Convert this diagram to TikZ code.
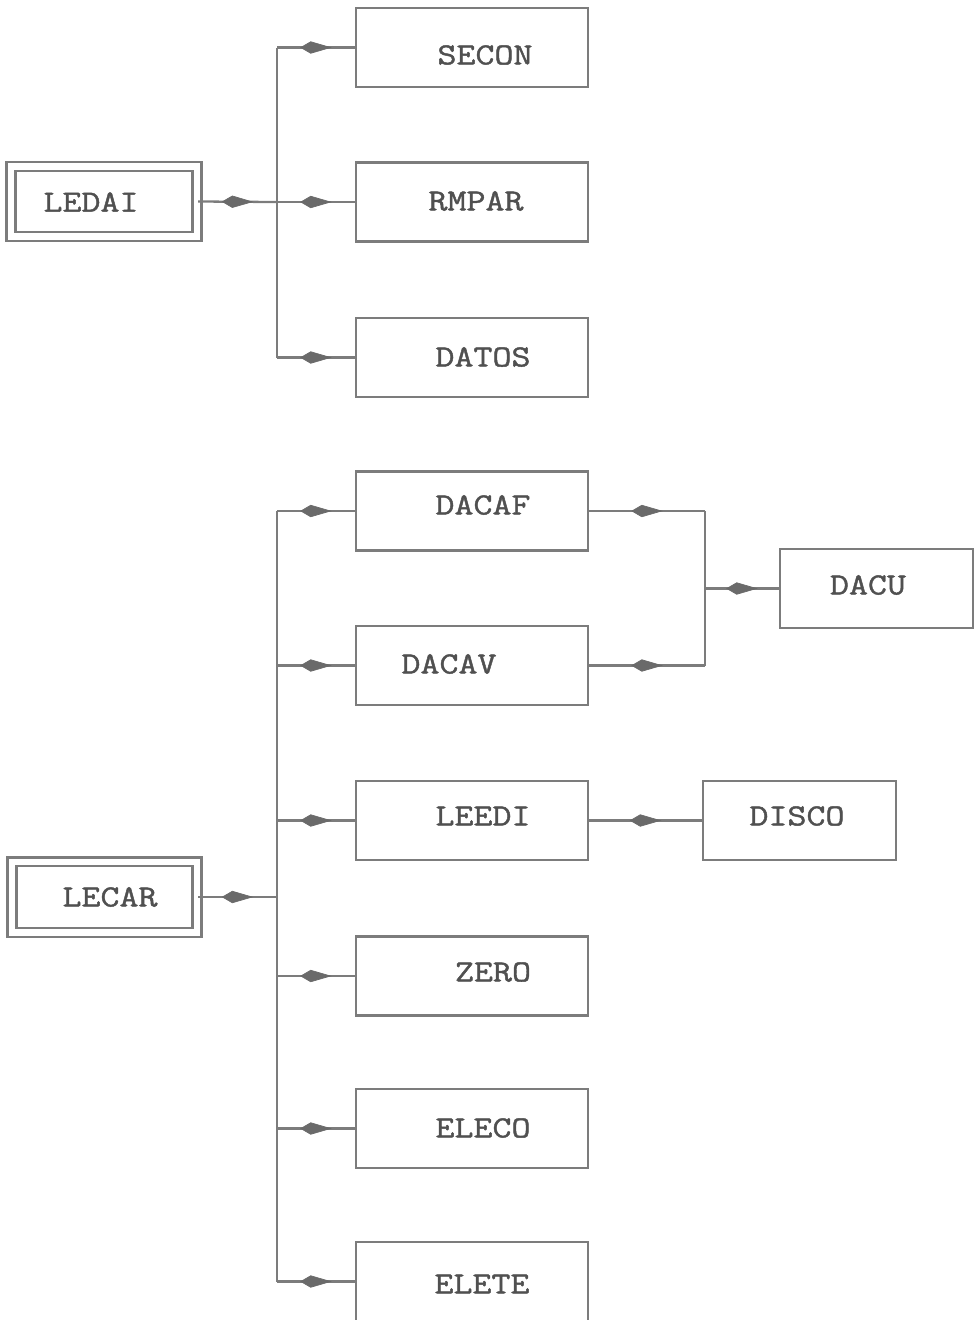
\documentclass[tikz,border=0pt]{standalone}
\usepackage{fontspec}
\setmonofont{Latin Modern Mono}[FakeStretch=1.2,FakeBold=1.4]
\usetikzlibrary{arrows.meta,decorations.markings,calc}
\definecolor{ink}{HTML}{7C7C7C}
\definecolor{txt}{HTML}{505050}
\definecolor{tipc}{HTML}{6A6A6A}
\tikzset{
  box/.style={draw=ink, line width=1.3pt, rectangle, minimum width=4.64cm, minimum height=1.58cm, inner sep=0pt},
  smallbox/.style={draw=ink, line width=1.3pt, rectangle, minimum width=3.86cm, minimum height=1.58cm, inner sep=0pt},
  dbox/.style={draw=ink, line width=1.3pt, double=white, double distance=0.13cm, rectangle, minimum width=3.72cm, minimum height=1.4cm, inner sep=0pt},
  lbl/.style={text=txt, font=\ttfamily\fontsize{17.5}{20}\selectfont, inner sep=0pt},
  wire/.style={draw=ink, line width=1.3pt},
  midarrow/.style={wire, postaction={decorate}, decoration={markings, mark=at position 0.5 with {\arrow[xshift=9pt]{Kite[length=18pt,width=7pt,inset=6pt,color=tipc,fill=tipc,line width=0.4pt]}}}}
}
\begin{document}
\begin{tikzpicture}[x=0.02cm, y=-0.02cm]
\useasboundingbox (0,0) rectangle (974,1320);
% upper group
\node[dbox] (ledai) at (104,201.5) {};
\node[lbl] (ledai-t) at (91,202) {LEDAI};
\node[box] (secon) at (472,47.5) {};
\node[lbl] (secon-t) at (485,55) {SECON};
\node[box] (rmpar) at (472,202) {};
\node[lbl] (rmpar-t) at (476,201) {RMPAR};
\node[box] (datos) at (472,357.5) {};
\node[lbl] (datos-t) at (483,357) {DATOS};
\coordinate (t1) at (277,202);
\draw[wire] (secon.west -| t1) -- (datos.west -| t1);
\draw[midarrow] (ledai.east) -- (t1);
\draw[midarrow] (secon.west -| t1) -- (secon.west);
\draw[midarrow] (t1) -- (rmpar.west);
\draw[midarrow] (datos.west -| t1) -- (datos.west);
% lower group
\node[dbox, minimum width=3.7cm, minimum height=1.41cm] (lecar) at (104.5,897) {};
\node[lbl] (lecar-t) at (110,897) {LECAR};
\node[box] (dacaf) at (472,511) {};
\node[lbl] (dacaf-t) at (483,505) {DACAF};
\node[box] (dacav) at (472,665.5) {};
\node[lbl] (dacav-t) at (449,664) {DACAV};
\node[box] (leedi) at (472,820.5) {};
\node[lbl] (leedi-t) at (483,816) {LEEDI};
\node[box] (zero) at (472,976) {};
\node[lbl] (zero-t) at (493,972) {ZERO};
\node[box] (eleco) at (472,1128.5) {};
\node[lbl] (eleco-t) at (483,1128) {ELECO};
\node[box] (elete) at (472,1281.5) {};
\node[lbl] (elete-t) at (482,1284) {ELETE};
\node[smallbox] (dacu) at (876.5,588.5) {};
\node[lbl] (dacu-t) at (868,585) {DACU};
\node[smallbox] (disco) at (799.5,820.5) {};
\node[lbl] (disco-t) at (797,816) {DISCO};
\coordinate (t2) at (277,897);
\draw[wire] (dacaf.west -| t2) -- (elete.west -| t2);
\draw[midarrow] (lecar.east) -- (t2);
\foreach \b in {dacaf,dacav,leedi,zero,eleco,elete}
  \draw[midarrow] (\b.west -| t2) -- (\b.west);
\coordinate (j) at (705,588.5);
\draw[midarrow] (dacaf.east) -- (dacaf.east -| j);
\draw[wire] (dacaf.east -| j) -- (dacav.east -| j);
\draw[midarrow] (dacav.east) -- (dacav.east -| j);
\draw[midarrow] (j) -- (dacu.west);
\draw[midarrow] (leedi.east) -- (disco.west);
\end{tikzpicture}
\end{document}
